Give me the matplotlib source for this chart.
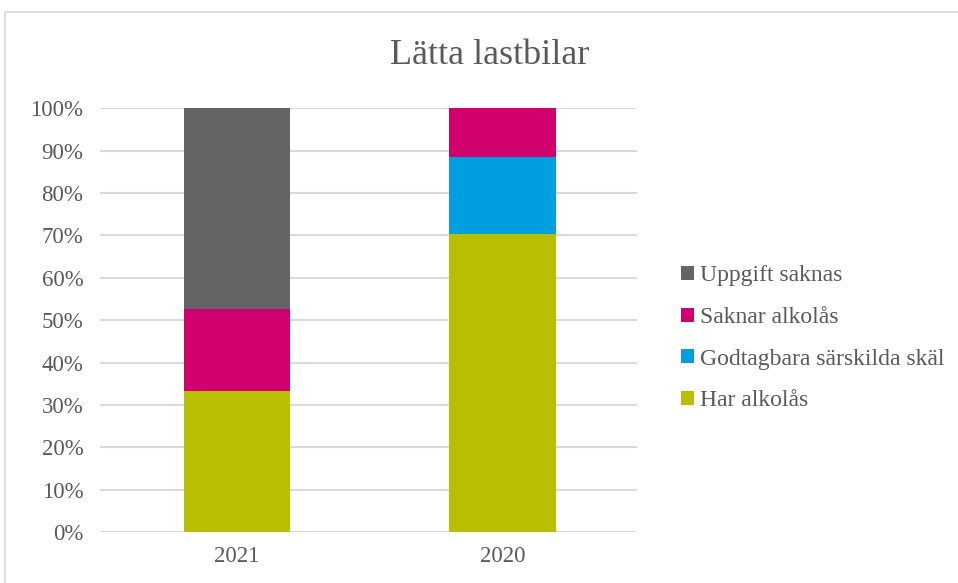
import matplotlib.pyplot as plt
from matplotlib.patches import Rectangle
from matplotlib.ticker import PercentFormatter

# Andelar (%) per år, staplade nerifrån och upp
years = ["2021", "2020"]
har_alkolas = [33.3, 70.3]
godtagbara = [0.0, 18.2]
saknar_alkolas = [19.4, 11.5]
uppgift_saknas = [47.3, 0.0]

series = [
    ("Har alkolås", har_alkolas, "#b7bf00"),
    ("Godtagbara särskilda skäl", godtagbara, "#009fdf"),
    ("Saknar alkolås", saknar_alkolas, "#d0006f"),
    ("Uppgift saknas", uppgift_saknas, "#636466"),
]

plt.rcParams["font.family"] = ["Liberation Serif", "DejaVu Serif"]
TEXT = "#595959"

fig = plt.figure(figsize=(9.58, 5.83), dpi=100)
W, H = 958, 583
ax = fig.add_axes([100 / W, 1 - 532.3 / H, 537 / W, 424 / H])

# ram runt diagramområdet (går ut över bildkanten till höger och nedåt)
fig.patches.append(Rectangle((5 / W, -0.1), 1.2, 1 - 12 / H + 0.1,
                             transform=fig.transFigure, fill=False,
                             edgecolor="#d9d9d9", linewidth=1.2))

x = range(len(years))
bottom = [0.0] * len(years)
handles = []
for label, vals, color in series:
    b = ax.bar(x, vals, width=0.402, bottom=bottom, color=color, label=label)
    handles.append(b)
    bottom = [a + v for a, v in zip(bottom, vals)]

ax.set_xlim(-0.515, 1.504)
ax.set_ylim(0, 100)
ax.set_yticks(range(0, 101, 10))
ax.yaxis.set_major_formatter(PercentFormatter(decimals=0))
ax.set_xticks(list(x))
ax.set_xticklabels(years)
ax.tick_params(axis="both", length=0, labelsize=16.5, labelcolor=TEXT)
ax.tick_params(axis="y", pad=12)
ax.tick_params(axis="x", pad=10)
ax.grid(axis="y", color="#d9d9d9", linewidth=1.5)
ax.set_axisbelow(True)
for s in ax.spines.values():
    s.set_visible(False)

fig.text(490 / W, 1 - 56 / H, "Lätta lastbilar", ha="center", va="center",
         fontsize=26, color=TEXT)

leg = fig.legend(handles[::-1], [s[0] for s in series][::-1],
                 loc="upper left", bbox_to_anchor=(672 / W, 1 - 256 / H),
                 frameon=False, fontsize=17, handlelength=0.55, handleheight=0.55,
                 handletextpad=0.25, labelspacing=0.87, borderaxespad=0)
for t in leg.get_texts():
    t.set_color(TEXT)

fig.savefig("out.png", dpi=100)
